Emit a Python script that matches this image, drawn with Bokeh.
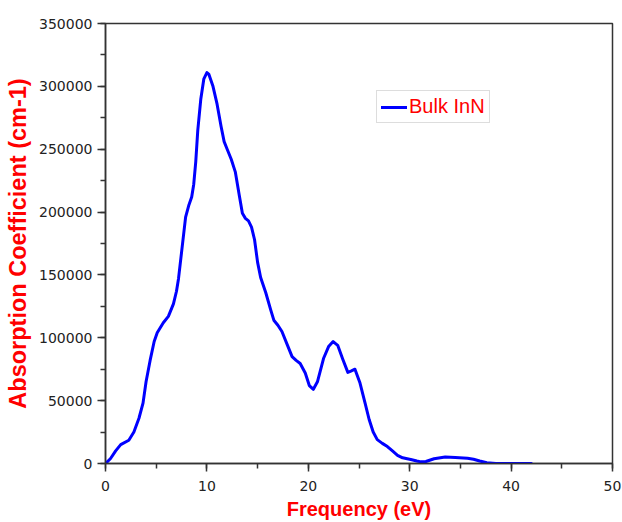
from bokeh.plotting import figure
from bokeh.models import Range1d, SingleIntervalTicker, BasicTickFormatter, Legend, LegendItem
from bokeh.embed import file_html
from bokeh.resources import INLINE

freq = [0, 0.5, 1.0, 1.5, 2.3, 2.8, 3.3, 3.7, 4.0, 4.4, 4.8, 5.1, 5.7, 6.2, 6.7,
        7.0, 7.2, 7.5, 7.9, 8.2, 8.5, 8.7, 8.9, 9.1, 9.4, 9.7, 10.0, 10.2, 10.6,
        11.0, 11.4, 11.7, 12.0, 12.4, 12.8, 13.2, 13.5, 13.8, 14.1, 14.4, 14.7,
        15.0, 15.3, 15.8, 16.3, 16.6, 17.0, 17.4, 17.9, 18.4, 18.8, 19.2, 19.7,
        20.1, 20.5, 20.9, 21.5, 22.0, 22.45, 22.9, 23.4, 23.9, 24.2, 24.6, 25.1,
        25.6, 26.0, 26.4, 26.8, 27.3, 27.8, 28.3, 28.8, 29.3, 30.1, 30.7, 31.1,
        31.6, 32.4, 33.5, 34.5, 35.7, 36.3, 36.9, 37.6, 38.5, 42.0]
absorption = [0, 4000, 10000, 15000, 18500, 25000, 36000, 48000, 65000, 82000,
              97000, 104000, 112000, 117000, 127000, 137000, 147000, 168000,
              196000, 205000, 212000, 222000, 240000, 265000, 290000, 306000,
              311000, 309500, 300000, 286000, 268000, 256000, 250000, 242000,
              232000, 213000, 199000, 195000, 193000, 188000, 178000, 160000,
              148000, 136000, 122000, 114000, 110000, 105000, 95000, 85000,
              82000, 79500, 72000, 62000, 59000, 65000, 83500, 93000, 97000,
              94000, 83000, 72500, 73500, 75000, 64000, 48000, 35000, 25000,
              19000, 16000, 13500, 10000, 6500, 4500, 3200, 2000, 1300, 1600,
              3800, 5200, 4800, 4200, 3400, 2000, 600, 0, 0]
series_label = "Bulk InN"
x_title = "Frequency (eV)"
y_title = "Absorption Coefficient (cm-1)"

p = figure(width=622, height=522, output_backend="svg", toolbar_location=None,
           x_range=Range1d(0, 50), y_range=Range1d(0, 350000),
           min_border_left=105, min_border_right=10, min_border_top=23,
           min_border_bottom=59)
p.frame_width = 507
p.frame_height = 440

p.grid.visible = False
p.outline_line_color = "#333333"
p.outline_line_width = 1.5
p.background_fill_color = "white"
p.border_fill_color = "white"

r = p.line(freq, absorption, line_color="#0000ff", line_width=3,
           line_join="round", line_cap="round")

for ax in (p.xaxis[0], p.yaxis[0]):
    ax.axis_line_color = "#333333"
    ax.axis_line_width = 1.5
    ax.major_tick_line_color = "#333333"
    ax.minor_tick_line_color = "#333333"
    ax.major_tick_line_width = 1.5
    ax.minor_tick_line_width = 1.5
    ax.major_tick_in = 0
    ax.minor_tick_in = 0
    ax.major_tick_out = 8
    ax.minor_tick_out = 5
    ax.major_label_text_font = "DejaVu Sans"
    ax.major_label_text_font_size = "14px"
    ax.major_label_text_color = "#222222"
    ax.axis_label_text_color = "#ff0000"
    ax.axis_label_text_font = "Liberation Sans"
    ax.axis_label_text_font_style = "bold"

p.xaxis.ticker = SingleIntervalTicker(interval=10, num_minor_ticks=2)
p.yaxis.ticker = SingleIntervalTicker(interval=50000, num_minor_ticks=2)
p.yaxis.formatter = BasicTickFormatter(use_scientific=False)
p.xaxis.major_label_standoff = 9
p.yaxis.major_label_standoff = 5

p.xaxis.axis_label = x_title
p.yaxis.axis_label = y_title
p.xaxis.axis_label_text_font_size = "20px"
p.yaxis.axis_label_text_font_size = "23.5px"
p.xaxis.axis_label_standoff = 4
p.yaxis.axis_label_standoff = 5

legend = Legend(items=[LegendItem(label=series_label, renderers=[r])],
                location=(271, 340), margin=0, padding=4, spacing=0,
                glyph_width=26, glyph_height=20, label_standoff=2,
                label_text_font="Liberation Sans", label_text_font_size="20px",
                label_text_color="#ff0000", label_height=20,
                border_line_color="#bbbbbb", border_line_width=1.5,
                background_fill_alpha=1.0)
p.add_layout(legend, "center")

open("out.html", "w").write(file_html(p, INLINE))
